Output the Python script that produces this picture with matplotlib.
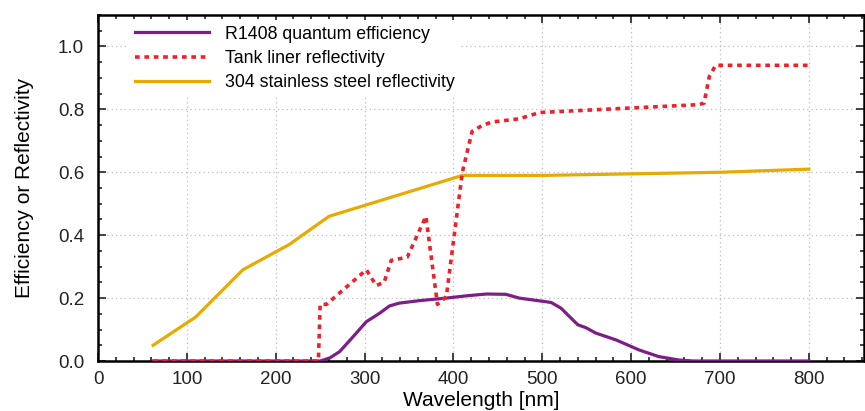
#!/usr/bin/env python3

import matplotlib.pyplot as plt
from matplotlib.ticker import MultipleLocator

plt.rcParams['font.family'] = ['Liberation Sans', 'DejaVu Sans']

# R1408 PMT quantum efficiency
qe_wl = [62, 250, 261, 272, 287, 302, 317, 328, 339, 362, 392, 414, 437, 459,
         474, 500, 510, 521, 540, 549, 560, 583, 609, 631, 654, 670, 800]
qe = [0.0, 0.0, 0.01, 0.03, 0.077, 0.125, 0.152, 0.175, 0.184, 0.192, 0.2,
      0.207, 0.213, 0.212, 0.2, 0.19, 0.186, 0.168, 0.115, 0.106, 0.089,
      0.067, 0.035, 0.014, 0.003, 0.0, 0.0]

# tank liner reflectivity
liner_wl = [62, 248, 250, 257, 302, 313, 322, 330, 348, 369, 382, 392, 410,
            421, 433, 444, 474, 497, 676, 682, 688, 695, 800]
liner = [0.0, 0.0, 0.18, 0.18, 0.29, 0.24, 0.25, 0.32, 0.33, 0.46, 0.18,
         0.205, 0.6, 0.73, 0.75, 0.76, 0.77, 0.79, 0.815, 0.82, 0.905, 0.94,
         0.94]

# 304 stainless steel reflectivity
steel_wl = [62, 110, 163, 215, 260, 410, 500, 700, 800]
steel = [0.05, 0.14, 0.29, 0.37, 0.46, 0.59, 0.59, 0.60, 0.61]

fig = plt.figure(figsize=(8.65, 4.11), dpi=100)
ax = fig.add_axes([98 / 865, 1 - 361 / 411, (864 - 98) / 865, (361 - 15) / 411])

ax.plot(qe_wl, qe, color='#7d1d87', lw=2.3, label='R1408 quantum efficiency',
        zorder=3)
ax.plot(liner_wl, liner, color='#f0202a', lw=2.6, ls=(0, (1.3, 1.3)),
        label='Tank liner reflectivity', zorder=4)
ax.plot(steel_wl, steel, color='#e8aa00', lw=2.3,
        label='304 stainless steel reflectivity', zorder=2)

ax.set_xlim(0, 862)
ax.set_ylim(0, 1.1)
ax.xaxis.set_major_locator(MultipleLocator(100))
ax.xaxis.set_minor_locator(MultipleLocator(20))
ax.yaxis.set_major_locator(MultipleLocator(0.2))
ax.yaxis.set_minor_locator(MultipleLocator(0.05))
ax.yaxis.set_major_formatter(plt.FormatStrFormatter('%.1f'))

ax.grid(True, which='major', color='#bbbbbb', ls=(0, (1, 2.5)), lw=0.9)
ax.set_axisbelow(True)
ax.tick_params(which='both', direction='in', top=True, right=True,
               labelsize=13.5, colors='#222222', width=1.2)
ax.tick_params(which='major', length=6, pad=7)
ax.tick_params(axis='y', which='major', pad=10)
ax.tick_params(which='minor', length=3)
for s in ax.spines.values():
    s.set_linewidth(1.8)

ax.set_xlabel('Wavelength [nm]', fontsize=15, labelpad=2)
ax.set_ylabel('Efficiency or Reflectivity', fontsize=15, labelpad=17)

leg = ax.legend(loc='upper left', bbox_to_anchor=(0.034, 1.0), fontsize=12.8,
                frameon=True, framealpha=1, edgecolor='none',
                facecolor='white', handlelength=4.2, handletextpad=0.9,
                borderaxespad=0.3, labelspacing=0.4, borderpad=0.3,
                fancybox=False)
leg.set_zorder(5)

plt.savefig('out.png')
